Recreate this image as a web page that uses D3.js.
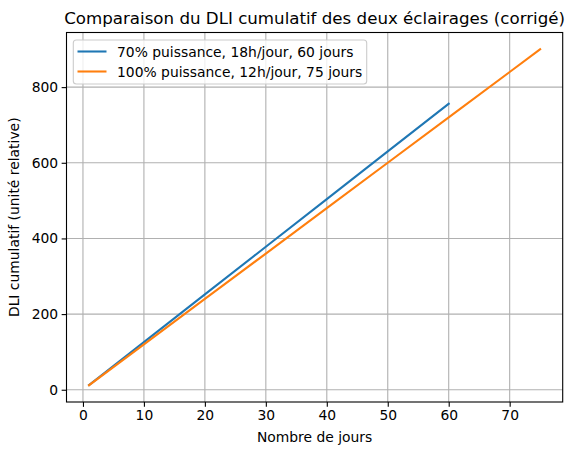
<!DOCTYPE html>
<html>
<head>
<meta charset="utf-8">
<script src="https://cdn.jsdelivr.net/npm/d3@7"></script>
<style>
  body { margin: 0; background: #fff; }
  svg { font-family: "DejaVu Sans", sans-serif; }
</style>
</head>
<body>
<svg id="chart" width="573" height="455"></svg>
<script>
// values
var daysA = [1, 10, 20, 30, 40, 50, 60];
var dliA = [12.6, 126, 252, 378, 504, 630, 756];
var daysB = [1, 10, 20, 30, 40, 50, 60, 70, 75];
var dliB = [12, 120, 240, 360, 480, 600, 720, 840, 900];
var seriesNames = ["70% puissance, 18h/jour, 60 jours", "100% puissance, 12h/jour, 75 jours"];
var seriesColors = ["#1f77b4", "#ff7f0e"];
var xTicks = [0, 10, 20, 30, 40, 50, 60, 70];
var yTicks = [0, 200, 400, 600, 800];

var svg = d3.select("#chart");
// plot area (note: "top" is taken by window.top)
var axLeft = 66.5, axRight = 562.7, axTop = 32.5, axBottom = 402;
var fs = "13.89px";

// matplotlib-like 5% margins
var xmin = 1, xmax = 75, ymin = 12, ymax = 900;
var xpad = (xmax - xmin) * 0.05, ypad = (ymax - ymin) * 0.05;

var x = d3.scaleLinear().domain([xmin - xpad, xmax + xpad]).range([axLeft, axRight]);
var y = d3.scaleLinear().domain([ymin - ypad, ymax + ypad]).range([axBottom, axTop]);

// grid
var grid = svg.append("g").attr("stroke", "#b0b0b0").attr("stroke-width", 1.1);
xTicks.forEach(function(t) {
    grid.append("line").attr("x1", x(t)).attr("x2", x(t)).attr("y1", axTop).attr("y2", axBottom);
});
yTicks.forEach(function(t) {
    grid.append("line").attr("x1", axLeft).attr("x2", axRight).attr("y1", y(t)).attr("y2", y(t));
});

// lines
var line = d3.line().x(function(d) { return x(d[0]); }).y(function(d) { return y(d[1]); });
var dataA = daysA.map(function(d, i) { return [d, dliA[i]]; });
var dataB = daysB.map(function(d, i) { return [d, dliB[i]]; });
[dataA, dataB].forEach(function(data, i) {
    svg.append("path").datum(data)
        .attr("d", line)
        .attr("fill", "none")
        .attr("stroke", seriesColors[i])
        .attr("stroke-width", 2.08)
        .attr("stroke-linecap", "square");
});

// axes
var xAxis = d3.axisBottom(x).tickValues(xTicks).tickSize(4.86).tickPadding(3.5);
var yAxis = d3.axisLeft(y).tickValues(yTicks).tickSize(4.86).tickPadding(3.5);

var gx = svg.append("g").attr("transform", "translate(0," + axBottom + ")").call(xAxis);
var gy = svg.append("g").attr("transform", "translate(" + axLeft + ",0)").call(yAxis);
[gx, gy].forEach(function(g) {
    g.select(".domain").remove();
    g.selectAll("text").attr("font-size", fs).attr("fill", "#000")
        .attr("font-family", "DejaVu Sans, sans-serif");
    g.selectAll("line").attr("stroke", "#000").attr("stroke-width", 1.1);
});

// frame
svg.append("rect")
    .attr("x", axLeft).attr("y", axTop)
    .attr("width", axRight - axLeft).attr("height", axBottom - axTop)
    .attr("fill", "none").attr("stroke", "#000").attr("stroke-width", 1.1);

// labels
svg.append("text")
    .attr("x", (axLeft + axRight) / 2).attr("y", 24)
    .attr("text-anchor", "middle").attr("font-size", "16.67px")
    .text("Comparaison du DLI cumulatif des deux éclairages (corrigé)");

svg.append("text")
    .attr("x", (axLeft + axRight) / 2).attr("y", 442.3)
    .attr("text-anchor", "middle").attr("font-size", fs)
    .text("Nombre de jours");

svg.append("text")
    .attr("transform", "translate(19," + (axTop + axBottom) / 2 + ") rotate(-90)")
    .attr("text-anchor", "middle").attr("font-size", fs)
    .text("DLI cumulatif (unité relative)");

// legend
var legend = svg.append("g");
legend.append("rect")
    .attr("x", 73.3).attr("y", 40)
    .attr("width", 293.4).attr("height", 44)
    .attr("rx", 3)
    .attr("fill", "#fff").attr("fill-opacity", 0.8)
    .attr("stroke", "#cccccc").attr("stroke-width", 1.1);

seriesNames.forEach(function(name, i) {
    var ly = 51.5 + i * 20;
    legend.append("line")
        .attr("x1", 77.5).attr("x2", 106.5)
        .attr("y1", ly).attr("y2", ly)
        .attr("stroke", seriesColors[i]).attr("stroke-width", 2.08);
    legend.append("text")
        .attr("x", 117).attr("y", ly + 5)
        .attr("font-size", fs)
        .text(name);
});
</script>
</body>
</html>
